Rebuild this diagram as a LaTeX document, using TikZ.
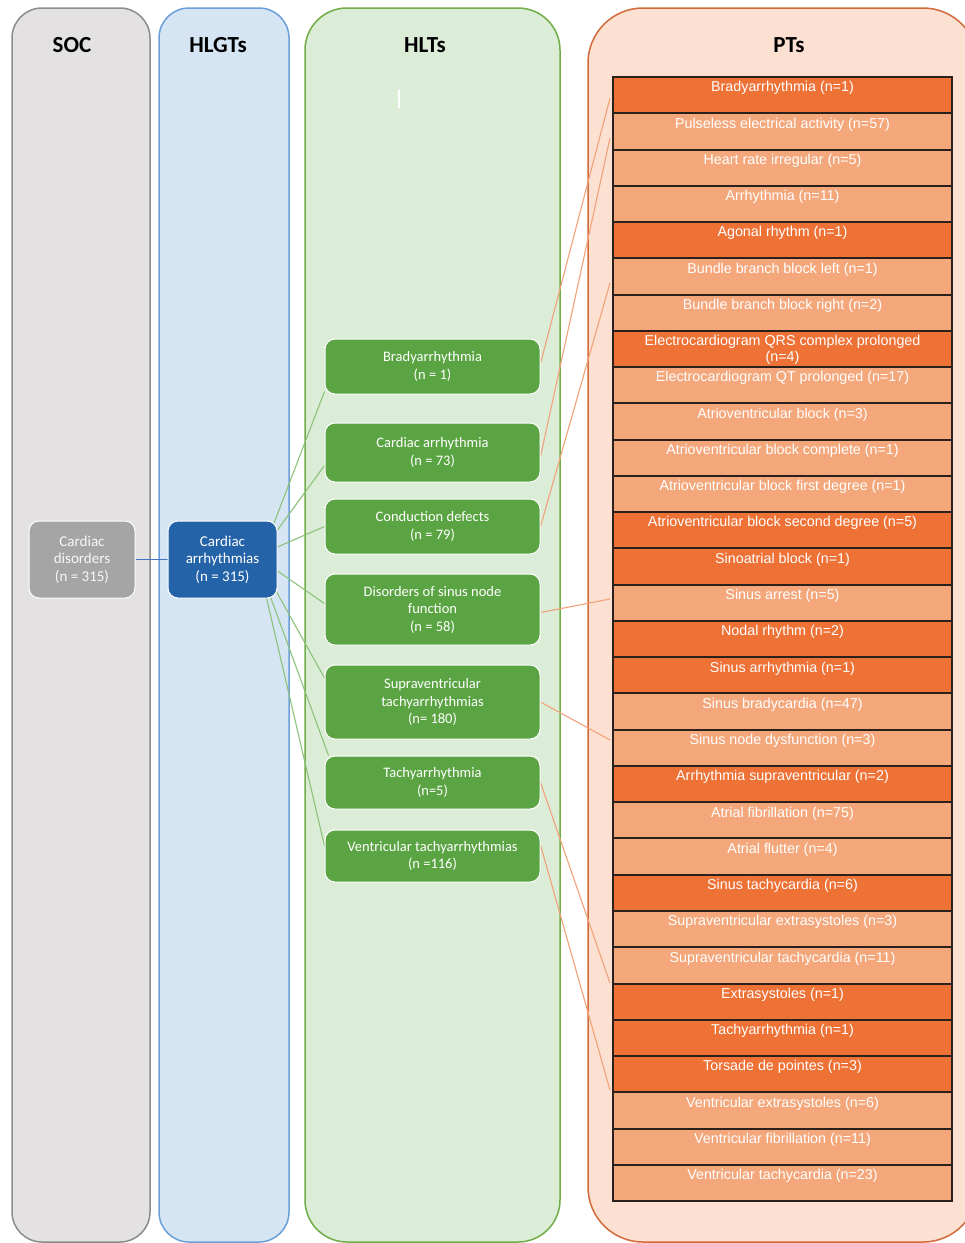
\documentclass[tikz,border=0pt]{standalone}
\usepackage{fontspec}
\setmainfont{Carlito}
\newfontfamily\ptfont{Liberation Sans}
\usetikzlibrary{calc}
\definecolor{socfill}{HTML}{E3E1E2}
\definecolor{socdraw}{HTML}{8C8C8C}
\definecolor{hlgtfill}{HTML}{D6E5F3}
\definecolor{hlgtdraw}{HTML}{6A9FD8}
\definecolor{hltfill}{HTML}{DCEDD7}
\definecolor{hltdraw}{HTML}{70AD47}
\definecolor{ptfill}{HTML}{FCE0D2}
\definecolor{ptdraw}{HTML}{D26A3A}
\definecolor{cdfill}{HTML}{A5A5A5}
\definecolor{cafill}{HTML}{2463A8}
\definecolor{hltnode}{HTML}{5BA443}
\definecolor{ptdark}{HTML}{EE7236}
\definecolor{ptlight}{HTML}{F4A77B}
\definecolor{orangeline}{HTML}{F2A27A}
\definecolor{greenline}{HTML}{8CC27A}
\definecolor{blueline}{HTML}{4472C4}
\definecolor{rowline}{HTML}{2A211C}
\pgfdeclarelayer{bg}
\pgfdeclarelayer{lines}
\pgfsetlayers{bg,lines,main}
\begin{document}
\begin{tikzpicture}[x=1pt,y=-1pt,
  column/.style={line width=1.5pt},
  hdr/.style={font=\fontsize{23}{26}\selectfont\bfseries, text=black, inner sep=0pt},
  topnode/.style={rounded corners=10pt, draw=white, line width=1pt, text=white, align=center,
     font=\fontsize{15}{17.5}\selectfont, inner sep=0pt},
  hltbox/.style={rounded corners=10pt, fill=hltnode, draw=white, line width=1pt, text=white, align=center,
     font=\fontsize{14.5}{17.5}\selectfont, minimum width=215pt, inner sep=0pt},
  ptrow/.style={minimum width=339pt, minimum height=36.26pt, inner sep=0pt},
  ptedge/.style={draw=rowline, line width=1.6pt},
  pttext/.style={text=white, align=center, font=\ptfont\fontsize{14.3}{16}\selectfont, inner sep=0pt, anchor=north},
  gline/.style={draw=greenline, line width=1.1pt},
  oline/.style={draw=orangeline, line width=1.1pt}
]
\useasboundingbox (0,0) rectangle (965,1243);
\clip (0,0) rectangle (965,1243);
\begin{pgfonlayer}{bg}
\fill[white] (0,0) rectangle (965,1243);
\draw[column, fill=socfill, draw=socdraw, rounded corners=30pt] (12,8) rectangle (150,1242);
\draw[column, fill=hlgtfill, draw=hlgtdraw, rounded corners=30pt] (159,8) rectangle (289,1242);
\draw[column, fill=hltfill, draw=hltdraw, rounded corners=42pt] (305,8) rectangle (560,1242);
\draw[column, fill=ptfill, draw=ptdraw, rounded corners=55pt] (588,8) rectangle (978,1242);
\draw[white, line width=1.2pt] (399,90) -- (399,108);
\end{pgfonlayer}

\node[hdr] (hsoc) at (72,45) {SOC};
\node[hdr] (hhlgt) at (218,45) {HLGTs};
\node[hdr] (hhlt) at (425,45) {HLTs};
\node[hdr] (hpt) at (789,45) {PTs};

\node[topnode, fill=cdfill, minimum width=106pt, minimum height=77pt, text=white!97!black] (cd) at (82,559.5) {Cardiac\\disorders\\(n = 315)};
\node[topnode, fill=cafill, minimum width=109pt, minimum height=77pt] (ca) at (222.5,559.5) {Cardiac\\arrhythmias\\(n = 315)};

\node[hltbox, minimum height=55pt] (b1) at (432.5,366.5) {Bradyarrhythmia\\(n = 1)};
\node[hltbox, minimum height=59pt] (b2) at (432.5,452.5) {Cardiac arrhythmia\\(n = 73)};
\node[hltbox, minimum height=55pt] (b3) at (432.5,526.5) {Conduction defects\\(n = 79)};
\node[hltbox, minimum height=71pt] (b4) at (432.5,609.5) {Disorders of sinus node\\function\\(n = 58)};
\node[hltbox, minimum height=74pt] (b5) at (432.5,702) {Supraventricular\\tachyarrhythmias\\(n= 180)};
\node[hltbox, minimum height=53pt] (b6) at (432.5,782.5) {Tachyarrhythmia\\(n=5)};
\node[hltbox, minimum height=52pt] (b7) at (432.5,856) {Ventricular tachyarrhythmias\\(n =116)};

\foreach \i/\c/\t in {
 0/ptdark/{Bradyarrhythmia (n=1)},
 1/ptlight/{Pulseless electrical activity (n=57)},
 2/ptlight/{Heart rate irregular (n=5)},
 3/ptlight/{Arrhythmia (n=11)},
 4/ptdark/{Agonal rhythm (n=1)},
 5/ptlight/{Bundle branch block left (n=1)},
 6/ptlight/{Bundle branch block right (n=2)},
 7/ptdark/{Electrocardiogram QRS complex prolonged\\(n=4)},
 8/ptlight/{Electrocardiogram QT prolonged (n=17)},
 9/ptlight/{Atrioventricular block (n=3)},
 10/ptlight/{Atrioventricular block complete (n=1)},
 11/ptlight/{Atrioventricular block first degree (n=1)},
 12/ptdark/{Atrioventricular block second degree (n=5)},
 13/ptdark/{Sinoatrial block (n=1)},
 14/ptlight/{Sinus arrest (n=5)},
 15/ptdark/{Nodal rhythm (n=2)},
 16/ptdark/{Sinus arrhythmia (n=1)},
 17/ptlight/{Sinus bradycardia (n=47)},
 18/ptlight/{Sinus node dysfunction (n=3)},
 19/ptdark/{Arrhythmia supraventricular (n=2)},
 20/ptlight/{Atrial fibrillation (n=75)},
 21/ptlight/{Atrial flutter (n=4)},
 22/ptdark/{Sinus tachycardia (n=6)},
 23/ptlight/{Supraventricular extrasystoles (n=3)},
 24/ptlight/{Supraventricular tachycardia (n=11)},
 25/ptdark/{Extrasystoles (n=1)},
 26/ptdark/{Tachyarrhythmia (n=1)},
 27/ptdark/{Torsade de pointes (n=3)},
 28/ptlight/{Ventricular extrasystoles (n=6)},
 29/ptlight/{Ventricular fibrillation (n=11)},
 30/ptlight/{Ventricular tachycardia (n=23)}}
{
  \node[ptrow, fill=\c] (r\i) at (782.5,{77+36.26*\i+18.13}) {};
}
\foreach \i in {0,...,30}{
  \draw[ptedge] (r\i.north west) rectangle (r\i.south east);
}
\foreach \i/\t in {
 0/{Bradyarrhythmia (n=1)},
 1/{Pulseless electrical activity (n=57)},
 2/{Heart rate irregular (n=5)},
 3/{Arrhythmia (n=11)},
 4/{Agonal rhythm (n=1)},
 5/{Bundle branch block left (n=1)},
 6/{Bundle branch block right (n=2)},
 7/{Electrocardiogram QRS complex prolonged\\(n=4)},
 8/{Electrocardiogram QT prolonged (n=17)},
 9/{Atrioventricular block (n=3)},
 10/{Atrioventricular block complete (n=1)},
 11/{Atrioventricular block first degree (n=1)},
 12/{Atrioventricular block second degree (n=5)},
 13/{Sinoatrial block (n=1)},
 14/{Sinus arrest (n=5)},
 15/{Nodal rhythm (n=2)},
 16/{Sinus arrhythmia (n=1)},
 17/{Sinus bradycardia (n=47)},
 18/{Sinus node dysfunction (n=3)},
 19/{Arrhythmia supraventricular (n=2)},
 20/{Atrial fibrillation (n=75)},
 21/{Atrial flutter (n=4)},
 22/{Sinus tachycardia (n=6)},
 23/{Supraventricular extrasystoles (n=3)},
 24/{Supraventricular tachycardia (n=11)},
 25/{Extrasystoles (n=1)},
 26/{Tachyarrhythmia (n=1)},
 27/{Torsade de pointes (n=3)},
 28/{Ventricular extrasystoles (n=6)},
 29/{Ventricular fibrillation (n=11)},
 30/{Ventricular tachycardia (n=23)}}
{
  \node[pttext] (t\i) at ($(r\i.north)+(0,4.5)$) {\t};
}

\coordinate (p1) at (610,98);
\coordinate (p2) at (610,138);
\coordinate (p3) at (610,283);
\coordinate (p4) at (610,599);
\coordinate (p5) at (610,740);
\coordinate (p6) at (610,983);
\coordinate (p7) at (610,1090);

\begin{pgfonlayer}{lines}
\draw[draw=blueline, line width=1pt] (cd.east) -- (ca.west);
\draw[gline] ($(ca.east)+(-5,-32.5)$) -- ($(b1.south west)+(0,-3)$);
\draw[gline] ($(ca.east)+(0,-29.5)$) -- ($(b2.west)+(0,13)$);
\draw[gline] ($(ca.east)+(0,-12.5)$) -- (b3.west);
\draw[gline] ($(ca.east)+(0,11.5)$) -- ($(b4.west)+(0,-6)$);
\draw[gline] ($(ca.east)+(-2,30.5)$) -- ($(b5.west)+(0,-24)$);
\draw[gline] ($(ca.east)+(-7,37.5)$) -- ($(b6.north west)+(4,0)$);
\draw[gline] ($(ca.east)+(-11,38.5)$) -- ($(b7.west)+(0,-10)$);
\draw[oline] ($(b1.east)+(0,-3)$) -- (p1);
\draw[oline] ($(b2.east)+(0,4)$) -- (p2);
\draw[oline] (b3.east) -- (p3);
\draw[oline] ($(b4.east)+(0,3)$) -- (p4);
\draw[oline] (b5.east) -- (p5);
\draw[oline] (b6.east) -- (p6);
\draw[oline] ($(b7.east)+(0,-11)$) -- (p7);
\end{pgfonlayer}
\end{tikzpicture}
\end{document}
